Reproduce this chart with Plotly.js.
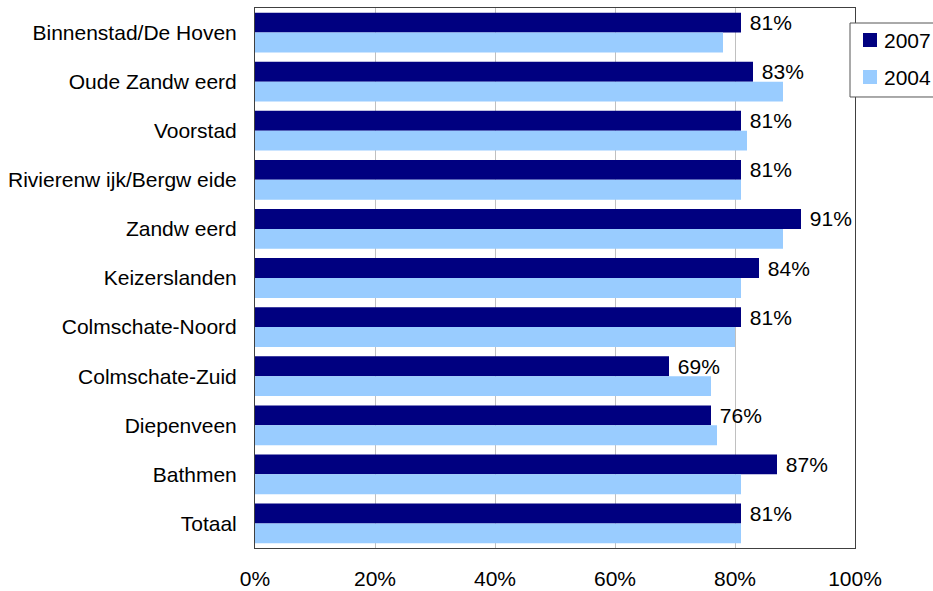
<!DOCTYPE html>
<html>
<head>
<meta charset="utf-8">
<script src="https://cdn.plot.ly/plotly-3.0.1.min.js"></script>
<style>html,body{margin:0;padding:0;background:#fff;}#chart{width:933px;height:591px;}</style>
</head>
<body>
<div id="chart"></div>
<script>
const categories = ["Binnenstad/De Hoven","Oude Zandw eerd","Voorstad","Rivierenw ijk/Bergw eide","Zandw eerd","Keizerslanden","Colmschate-Noord","Colmschate-Zuid","Diepenveen","Bathmen","Totaal"];
const values2007 = [81, 83, 81, 81, 91, 84, 81, 69, 76, 87, 81];
const values2004 = [78, 88, 82, 81, 88, 81, 80, 76, 77, 81, 81];
const seriesNames = ["2007", "2004"];
const seriesColors = ["#000080", "#99CCFF"];
const xTickVals = [0, 20, 40, 60, 80, 100];
const xTickText = ["0%", "20%", "40%", "60%", "80%", "100%"];

const font = "Liberation Sans, Arial, sans-serif";
const fs = 21;
const traces = [
  {type: "bar", orientation: "h", name: seriesNames[0], y: categories, x: values2007,
   marker: {color: seriesColors[0]}, texttemplate: "\u00a0%{x}%", textposition: "outside",
   constraintext: "none",
   textfont: {family: font, size: fs, color: "#000"}, cliponaxis: false, hoverinfo: "none"},
  {type: "bar", orientation: "h", name: seriesNames[1], y: categories, x: values2004,
   marker: {color: seriesColors[1]}, hoverinfo: "none"}
];

// custom legend (box partly outside the page, as in the reference)
const legendShapes = [
  {type: "rect", xref: "paper", yref: "paper", x0: 0.99167, x1: 1.1417, y0: 0.8352, y1: 0.9722,
   line: {color: "#555", width: 1}, fillcolor: "#fff", layer: "above"},
  {type: "rect", xref: "paper", yref: "paper", x0: 1.01333, x1: 1.03667, y0: 0.92778, y1: 0.95370,
   line: {width: 0}, fillcolor: seriesColors[0], layer: "above"},
  {type: "rect", xref: "paper", yref: "paper", x0: 1.01333, x1: 1.03667, y0: 0.85926, y1: 0.88519,
   line: {width: 0}, fillcolor: seriesColors[1], layer: "above"}
];
const legendAnnots = [
  {xref: "paper", yref: "paper", x: 1.045, y: 0.94074, xanchor: "left", yanchor: "middle",
   text: seriesNames[0], showarrow: false, font: {family: font, size: fs, color: "#000"}},
  {xref: "paper", yref: "paper", x: 1.045, y: 0.87222, xanchor: "left", yanchor: "middle",
   text: seriesNames[1], showarrow: false, font: {family: font, size: fs, color: "#000"}}
];

const layout = {
  width: 933, height: 591,
  margin: {l: 255, r: 78, t: 8, b: 43, autoexpand: false},
  paper_bgcolor: "#fff", plot_bgcolor: "#fff",
  barmode: "group", bargap: 0.19, bargroupgap: 0,
  font: {family: font, size: fs, color: "#000"},
  showlegend: false,
  shapes: legendShapes,
  annotations: legendAnnots,
  xaxis: {range: [0, 100], tickvals: xTickVals, ticktext: xTickText,
          showgrid: true, gridcolor: "#c0c0c0", gridwidth: 1, zeroline: false,
          showline: true, mirror: true, linecolor: "#404040", linewidth: 1,
          ticks: "outside", ticklen: 12, tickcolor: "rgba(0,0,0,0)",
          tickfont: {family: font, size: fs, color: "#000"}, fixedrange: true},
  yaxis: {autorange: "reversed", showline: true, mirror: true, linecolor: "#404040", linewidth: 1,
          ticks: "outside", ticklen: 13, tickcolor: "rgba(0,0,0,0)", showgrid: false,
          tickfont: {family: font, size: fs, color: "#000"}, fixedrange: true}
};
Plotly.newPlot("chart", traces, layout, {displayModeBar: false, staticPlot: true});
</script>
</body>
</html>
